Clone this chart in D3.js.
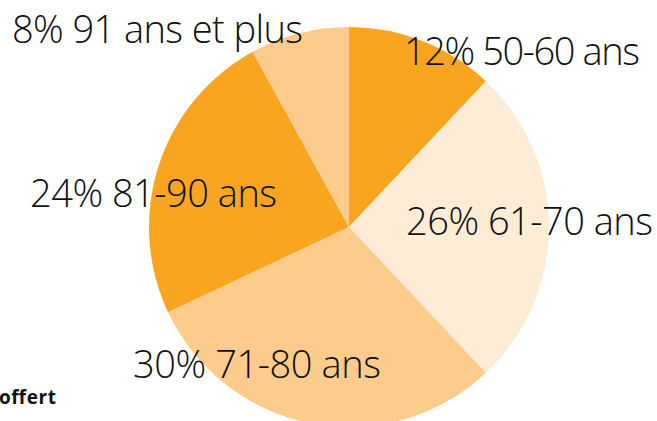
<!DOCTYPE html>
<html><head><meta charset="utf-8">
<script src="https://cdn.jsdelivr.net/npm/d3@7"></script>
<style>html,body{margin:0;padding:0;background:#fff;overflow:hidden}</style>
</head><body>
<svg id="c" width="657" height="421"></svg>
<script>
const categories = ["50-60 ans", "61-70 ans", "71-80 ans", "81-90 ans", "91 ans et plus"];
const values = [12, 26, 30, 24, 8];
const colors = ["#F9A51F", "#FEECD6", "#FDCC8C", "#F9A51F", "#FDCC8C"];

// layout only: label anchor (left x, baseline y) relative to pie center
const labelPos = [[55, -162], [57, 8], [-216, 151], [-319, -20], [-337, -184]];
const labelWidth = [236, 247, 248, 247, 291];

const W = 657, H = 421, cx = 349, cy = 227, R = 200;
const svg = d3.select("#c");
const g = svg.append("g").attr("transform", `translate(${cx},${cy})`);
const pie = d3.pie().sort(null).value(d => d)(values);
const arc = d3.arc().innerRadius(0).outerRadius(R);
g.selectAll("path").data(pie).join("path")
  .attr("d", arc).attr("fill", (d, i) => colors[i]);

g.selectAll("text.lbl").data(pie).join("text").attr("class", "lbl")
  .attr("x", (d, i) => labelPos[i][0]).attr("y", (d, i) => labelPos[i][1])
  .attr("font-family", "Open Sans, sans-serif").attr("font-size", 38)
  .attr("font-weight", 300)
  .attr("textLength", (d, i) => labelWidth[i]).attr("lengthAdjust", "spacing")
  .attr("fill", "#111")
  .text((d, i) => `${values[i]}% ${categories[i]}`);

svg.append("text").attr("x", -1).attr("y", 404)
  .attr("font-family", "Open Sans, sans-serif").attr("font-weight", 700)
  .attr("font-size", 19).attr("textLength", 57).attr("fill", "#111").text("offert");
</script>
</body></html>
